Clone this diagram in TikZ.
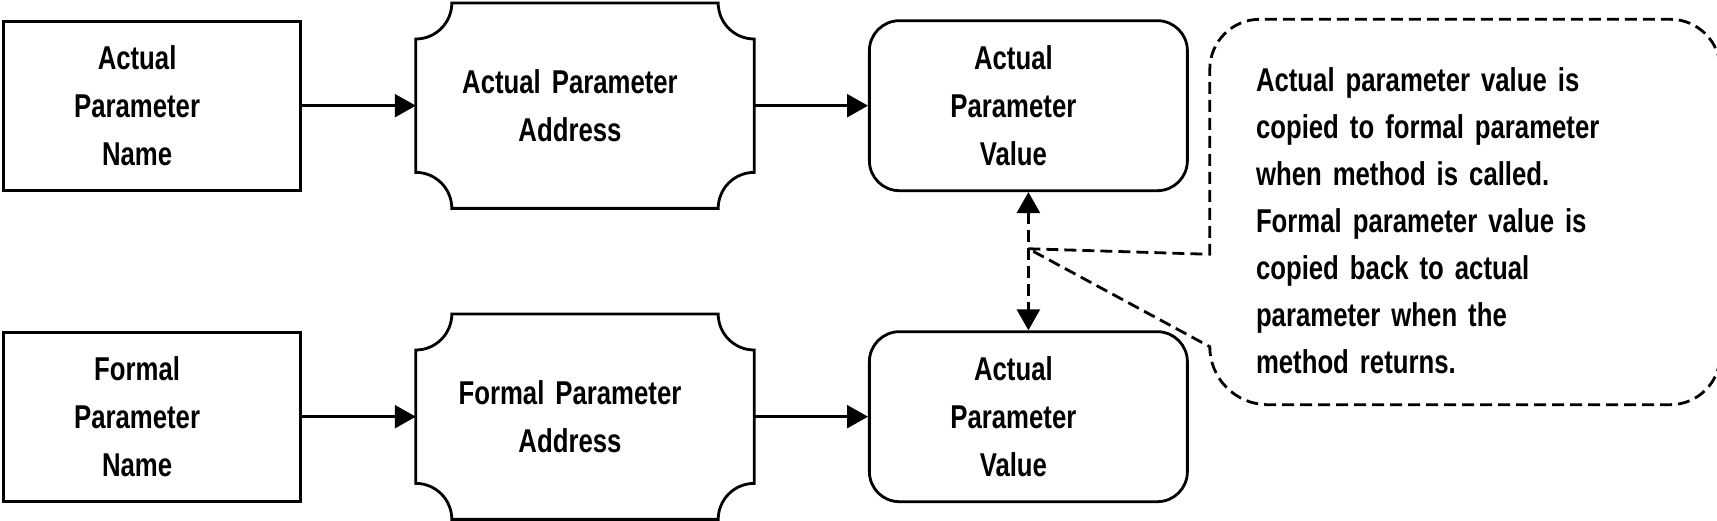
\documentclass[tikz,border=0pt]{standalone}
\usepackage{fontspec}
\setmainfont{Liberation Sans}[FakeStretch=0.78]
\usetikzlibrary{matrix,arrows.meta,positioning,calc}
\tikzset{
	>={Triangle[length=21pt,width=23pt]},
	boxtext/.style={align=center, execute at begin node={\leftskip=0pt plus 1fil\rightskip=30pt plus 1fil\parfillskip=0pt}},
	namebox/.style={draw, line width=2.8pt, minimum width=297pt, minimum height=169pt, text width=270pt, boxtext},
	addrbox/.style={minimum width=338pt, minimum height=205pt, text width=310pt, boxtext},
	valbox/.style={draw, line width=2.8pt, rounded corners=30pt, minimum width=318pt, minimum height=170pt, text width=290pt, boxtext},
	note/.style={minimum width=510pt, minimum height=403pt, text width=418pt, inner xsep=46pt, align=left, font=\fontsize{33pt}{47pt}\selectfont\bfseries},
	calloutline/.style={line width=2.8pt, dash pattern=on 12pt off 6pt}
}

\begin{document}
\begin{tikzpicture}[x=1pt, y=1pt, font=\fontsize{33pt}{48pt}\selectfont\bfseries]
			\useasboundingbox (0,0) rectangle (1717,521);
			\matrix (b) [matrix of nodes, row sep=106pt, column sep=114pt, inner sep=0pt, anchor=north west,
				nodes={anchor=center}, column 1/.style={nodes=namebox}, column 2/.style={nodes=addrbox},
				column 3/.style={nodes=valbox}] at (2,518)
			{
				Actual\par Parameter\par Name & Actual Parameter\par Address & Actual\par Parameter\par Value\\
				Formal\par Parameter\par Name & Formal Parameter\par Address & Actual\par Parameter\par Value\\
			};
			\foreach \n in {b-1-2,b-2-2}
				\draw[line width=2.8pt] ([xshift=36pt]\n.north west) -- ([xshift=-36pt]\n.north east)
					arc[start angle=180, end angle=270, radius=36pt] -- ([yshift=36pt]\n.south east)
					arc[start angle=90, end angle=180, radius=36pt] -- ([xshift=36pt]\n.south west)
					arc[start angle=0, end angle=90, radius=36pt] -- ([yshift=-36pt]\n.north west)
					arc[start angle=270, end angle=360, radius=36pt] -- cycle;
			\path[->, line width=2.4pt]
			(b-1-1) edge (b-1-2)
			(b-1-2) edge (b-1-3)
			(b-2-1) edge (b-2-2)
			(b-2-2) edge (b-2-3);
			\draw[<->, calloutline] (b-1-3) -- (b-2-3);
			\node (n) [note, right=21pt of b-1-3.north east, anchor=north west]
				{Actual parameter value is\\copied to formal parameter\\when method is called.\\Formal parameter value is\\copied back to actual\\parameter when the\\method returns.};
			\coordinate (j) at ($(b-1-3.south)!0.41!(b-2-3.north)$);
			\draw[calloutline] (j) -- ([yshift=-235pt]n.north west) -- ([yshift=-50pt]n.north west)
				arc[start angle=180, end angle=90, radius=50pt] -- ([xshift=-50pt]n.north east)
				arc[start angle=90, end angle=0, radius=50pt] -- ([yshift=68pt]n.south east)
				arc[start angle=0, end angle=-90, radius=50pt] -- ([xshift=58pt, yshift=18pt]n.south west)
				arc[start angle=270, end angle=180, radius=58pt] -- (j);
		\end{tikzpicture}
\end{document}
